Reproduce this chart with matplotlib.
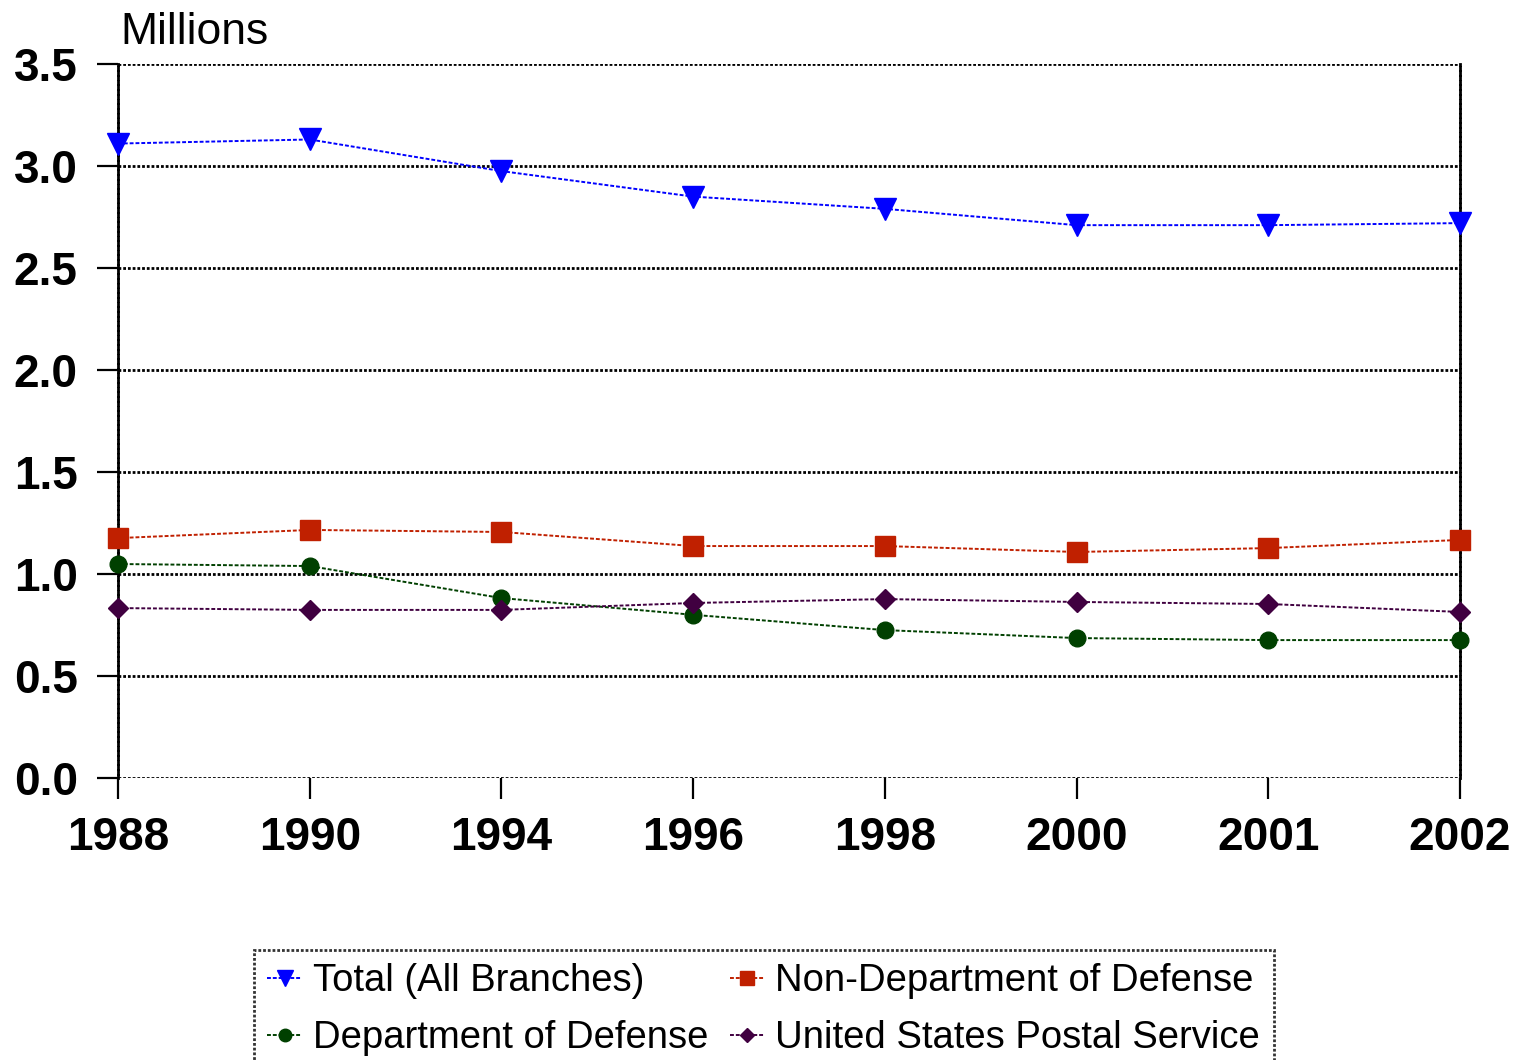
import matplotlib.pyplot as plt

# data
years = ['1988', '1990', '1994', '1996', '1998', '2000', '2001', '2002']
total = [3.11, 3.13, 2.975, 2.85, 2.79, 2.71, 2.71, 2.72]
non_dod = [1.176, 1.216, 1.206, 1.137, 1.137, 1.108, 1.127, 1.167]
dod = [1.049, 1.039, 0.882, 0.80, 0.725, 0.686, 0.676, 0.676]
usps = [0.833, 0.824, 0.824, 0.858, 0.877, 0.863, 0.853, 0.814]
yticks = [0.0, 0.5, 1.0, 1.5, 2.0, 2.5, 3.0, 3.5]

names = ['Total (All Branches)', 'Non-Department of Defense',
         'Department of Defense', 'United States Postal Service']

plt.rcParams['font.family'] = ['Liberation Sans', 'DejaVu Sans']

fig = plt.figure(figsize=(15.24, 10.6), dpi=100)
ax = fig.add_axes([118 / 1524, 1 - 778 / 1060, (1460 - 118) / 1524, (778 - 64) / 1060])

x = list(range(len(years)))
dots = (0, (2, 1))
style = dict(linestyle=dots, linewidth=1.4, clip_on=False, zorder=5)

l1, = ax.plot(x, total, color='#0000FF', marker='v', markersize=16, **style)
l2, = ax.plot(x, non_dod, color='#C02000', marker='s', markersize=14, **style)
l3, = ax.plot(x, dod, color='#004000', marker='o', markersize=12, **style)
l4, = ax.plot(x, usps, color='#400040', marker='D', markersize=10, **style)

ax.set_xlim(0, len(years) - 1)
ax.set_ylim(0, 3.5)
ax.set_yticks(yticks)
ax.set_yticklabels(['{:.1f}'.format(v) for v in yticks], fontsize=33, fontweight='bold')
ax.set_xticks(x)
ax.set_xticklabels(years, fontsize=33, fontweight='bold')

ax.grid(axis='y', color='black', linestyle=(0, (1, 0.7)), linewidth=2)
ax.grid(axis='x', visible=False)
ax.tick_params(axis='y', length=15, width=1.6, pad=14, direction='out')
ax.tick_params(axis='x', length=15, width=1.6, pad=12, direction='out')

for side in ['left', 'right']:
    ax.spines[side].set_linestyle((0, (1, 0.7)))
    ax.spines[side].set_linewidth(2)
for side in ['top', 'bottom']:
    ax.spines[side].set_visible(False)

fig.text(120 / 1524, 1 - 44 / 1060, 'Millions', fontsize=32, ha='left', va='baseline')

# legend filled row by row
order = [0, 2, 1, 3]
lines = [l1, l2, l3, l4]
leg = fig.legend([lines[i] for i in order], [names[i] for i in order],
                 loc='upper left', ncol=2, borderaxespad=0,
                 bbox_to_anchor=(254 / 1524, 1 - 950 / 1060),
                 prop={'size': 27.5},
                 handlelength=0.9, handletextpad=0.3, columnspacing=0.55,
                 labelspacing=0.55, borderpad=0.35, fancybox=False, markerscale=0.75)
leg.get_frame().set_edgecolor('black')
leg.get_frame().set_linestyle((0, (1, 0.7)))
leg.get_frame().set_linewidth(2)

fig.savefig('out.png', dpi=100)
